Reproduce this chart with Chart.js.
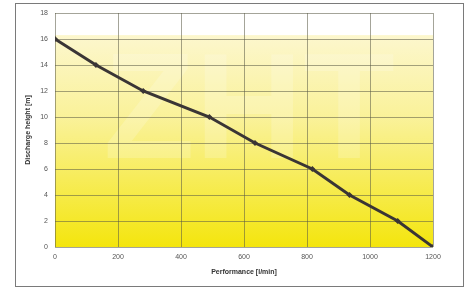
<!DOCTYPE html>
<html>
<head>
<meta charset="utf-8">
<script src="https://cdn.jsdelivr.net/npm/chart.js@4"></script>
<style>
html,body{margin:0;padding:0;background:#fff;}
#wrap{width:472px;height:288px;position:relative;}
</style>
</head>
<body>
<div id="wrap"><canvas id="c" width="472" height="288"></canvas></div>
<script>
const flowLpm = [0, 130, 280, 490, 635, 817, 935, 1088, 1200];
const headM = [16, 14, 12, 10, 8, 6, 4, 2, 0];
const xTicks = [0, 200, 400, 600, 800, 1000, 1200];
const yTicks = [0, 2, 4, 6, 8, 10, 12, 14, 16, 18];
const xTitle = 'Performance [l/min]';
const yTitle = 'Discharge height [m]';

const bgPlugin = {
  id: 'bg',
  beforeDraw(chart) {
    const {ctx, chartArea: a, scales} = chart;
    ctx.save();
    ctx.fillStyle = '#ffffff';
    ctx.fillRect(0, 0, chart.width, chart.height);
    ctx.strokeStyle = '#7a7a7a';
    ctx.lineWidth = 1;
    ctx.strokeRect(15.5, 3.5, 448, 283);
    const yTop = scales.y.getPixelForValue(16.3);
    const g = ctx.createLinearGradient(0, yTop, 0, a.bottom);
    g.addColorStop(0, 'rgba(252,246,200,0.9)');
    g.addColorStop(0.4, 'rgba(249,240,140,0.9)');
    g.addColorStop(1, 'rgba(243,228,0,0.95)');
    ctx.fillStyle = g;
    ctx.fillRect(a.left, yTop, a.right - a.left, a.bottom - yTop);
    ctx.fillStyle = 'rgba(255,255,255,0.18)';
    ctx.font = 'bold 150px "Liberation Sans", Arial';
    ctx.textAlign = 'center';
    ctx.textBaseline = 'middle';
    ctx.fillText('ZHT', (a.left + a.right) / 2 + 5, scales.y.getPixelForValue(10));
    ctx.restore();
  }
};

new Chart(document.getElementById('c'), {
  type: 'line',
  data: {
    datasets: [{
      data: flowLpm.map((x, i) => ({x: x, y: headM[i]})),
      borderColor: '#3a3535',
      backgroundColor: '#3a3535',
      borderWidth: 3,
      pointStyle: 'rectRot',
      pointRadius: 3,
      pointBorderWidth: 0,
      tension: 0
    }]
  },
  options: {
    responsive: false,
    animation: false,
    devicePixelRatio: 1,
    layout: {padding: {left: 24, top: 13, right: 39, bottom: 12}},
    plugins: {legend: {display: false}, tooltip: {enabled: false}},
    scales: {
      x: {
        type: 'linear', min: 0, max: 1200,
        afterBuildTicks(s) { s.ticks = xTicks.map(v => ({value: v})); },
        afterFit(s) { s.height = 29; },
        grid: {color: 'rgba(90,90,70,0.55)', drawTicks: false, lineWidth: 1},
        border: {display: false},
        ticks: {color: '#555', font: {size: 7, family: 'Arial, "Liberation Sans"'}, padding: 6, callback: v => String(v)},
        title: {display: true, text: xTitle, color: '#333', font: {size: 7, weight: 'bold', family: 'Arial, "Liberation Sans"'}, padding: {top: 2, bottom: 0}}
      },
      y: {
        min: 0, max: 18,
        afterBuildTicks(s) { s.ticks = yTicks.map(v => ({value: v})); },
        afterFit(s) { s.width = 31; },
        grid: {color: 'rgba(90,90,70,0.55)', drawTicks: false, lineWidth: 1},
        border: {display: false},
        ticks: {color: '#555', font: {size: 7, family: 'Arial, "Liberation Sans"'}, padding: 7, callback: v => String(v)},
        title: {display: true, text: yTitle, color: '#333', font: {size: 7, weight: 'bold', family: 'Arial, "Liberation Sans"'}, padding: {bottom: 0, top: 0}}
      }
    }
  },
  plugins: [bgPlugin]
});
</script>
</body>
</html>
